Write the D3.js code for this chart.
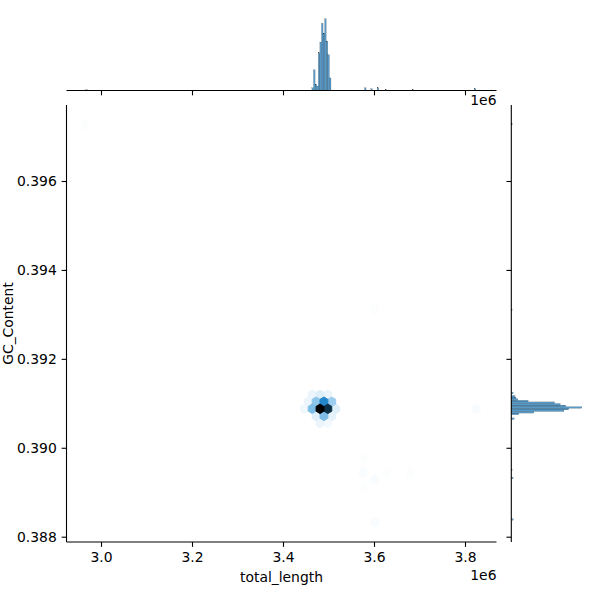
<!DOCTYPE html>
<html><head><meta charset="utf-8">
<script src="https://cdn.jsdelivr.net/npm/d3@7"></script>
<style>body{margin:0;background:#fff} svg text{font-family:"DejaVu Sans",sans-serif;}</style>
</head><body><svg id="c" width="600" height="600"></svg>
<script>
// ---------- data ----------
const xTicks = [3.0e6, 3.2e6, 3.4e6, 3.6e6, 3.8e6];
const yTicks = [0.388, 0.390, 0.392, 0.394, 0.396];
const xDomain = [2924176, 3869231];
const yDomain = [0.3878808, 0.3977093];

// hexbin cells: centers (data units) and counts
const hexX = [3446904, 3464122, 3481340, 3498558, 3515776,
              3455513, 3472731, 3489949, 3507167,
              3464122, 3481340, 3498558,
              3472731, 3489949, 3507167,
              3481340, 3498558,
              2964800, 3601866, 3825700, 3576039, 3576039, 3627693, 3679347, 3601866, 3576039, 3601866];
const hexY = [0.390876, 0.390876, 0.390876, 0.390876, 0.390876,
              0.3910355, 0.3910355, 0.3910355, 0.3910355,
              0.391195, 0.391195, 0.391195,
              0.3907165, 0.3907165, 0.3907165,
              0.390557, 0.390557,
              0.397256, 0.393109, 0.390876, 0.3897595, 0.3894405, 0.3894405, 0.3894405, 0.389281, 0.3891215, 0.388324];
const hexCount = [6, 45, 150, 125, 12,
                  8, 40, 80, 35,
                  8, 12, 8,
                  12, 45, 10,
                  8, 5,
                  2, 2, 3, 2, 3, 2, 2, 3, 2, 3];
const hexWidth = 17218;      // sx, data units
const hexRowHeight = 0.000319; // sy, data units

// marginal histogram on total_length
const histXWidth = 3500;
const histXStart = [2966500, 3463500, 3467000, 3470500, 3474000, 3477500, 3481000, 3484500, 3488000,
                    3491500, 3495000, 3498500, 3502000, 3579000, 3593000, 3607000, 3624500, 3684000, 3820500];
const histXCount = [1, 3, 23, 7, 5, 42, 54, 75, 64, 80, 55, 40, 14, 3, 2, 3, 1, 1, 2];

// marginal histogram on GC_Content
const histYHeight = 0.000036;
const histYStart = [0.388368, 0.389304, 0.389484, 0.390636, 0.390744, 0.390780, 0.390816, 0.390852,
                    0.390888, 0.390924, 0.390960, 0.390996, 0.391032, 0.391068, 0.391104, 0.391140,
                    0.391212, 0.393084, 0.397260];
const histYCount = [2, 2, 1, 3, 8, 24, 56, 61, 75, 58, 52, 46, 18, 7, 5, 4, 2, 1, 1];

// ---------- layout ----------
const J = {left: 66.5, right: 496.5, top: 105, bottom: 542};
const MX = {top: 15.2, bottom: 90.5};
const MY = {left: 511.3, right: 585.4};
const FS = 13.9;
const C0 = "#1f77b4";

const svg = d3.select("#c");
const x = d3.scaleLinear().domain(xDomain).range([J.left, J.right]);
const y = d3.scaleLinear().domain(yDomain).range([J.bottom, J.top]);

// ---------- hexbin ----------
const maxC = d3.max(hexCount);
const base = d3.hsl(C0);
const light = d3.scaleLinear().domain([1, maxC]).range([1, 0]);
const color = c => d3.hsl(base.h, base.s, light(c)).formatHex();
const hexPath = (cx, cy) => {
  const off = [[0.5, -0.5], [0.5, 0.5], [0, 1], [-0.5, 0.5], [-0.5, -0.5], [0, -1]];
  return "M" + off.map(o => [x(cx + o[0] * hexWidth), y(cy + o[1] * hexRowHeight / 3)].join(",")).join("L") + "Z";
};
const hexData = hexX.map((v, i) => ({x: v, y: hexY[i], c: hexCount[i]})).sort((a, b) => a.c - b.c);
svg.append("g").selectAll("path").data(hexData).join("path")
  .attr("d", d => hexPath(d.x, d.y))
  .attr("fill", d => color(d.c))
  .attr("stroke", d => color(d.c))
  .attr("stroke-width", 1);

// ---------- main axes ----------
const gx = svg.append("g").attr("transform", `translate(0,${J.bottom})`)
  .call(d3.axisBottom(x).tickValues(xTicks).tickFormat(d => (d / 1e6).toFixed(1))
    .tickSize(4.86).tickPadding(4.86).tickSizeOuter(0));
const gy = svg.append("g").attr("transform", `translate(${J.left},0)`)
  .call(d3.axisLeft(y).tickValues(yTicks).tickFormat(d => d.toFixed(3))
    .tickSize(4.86).tickPadding(4.86).tickSizeOuter(0));
[gx, gy].forEach(g => {
  g.selectAll("path.domain").attr("stroke", "#000").attr("stroke-width", 1.1);
  g.selectAll(".tick line").attr("stroke", "#000").attr("stroke-width", 1.1);
  g.selectAll(".tick text").attr("fill", "#000").style("font-size", FS + "px").style("font-family", "DejaVu Sans");
});
gx.select("path.domain").attr("d", `M${J.left},0H${J.right}`);
gy.select("path.domain").attr("d", `M0,${J.top}V${J.bottom}`);

svg.append("text").attr("x", (J.left + J.right) / 2).attr("y", 582)
  .attr("text-anchor", "middle").style("font-size", FS + "px").text("total_length");
svg.append("text").attr("transform", `translate(12.5,${(J.top + J.bottom) / 2}) rotate(-90)`)
  .attr("text-anchor", "middle").style("font-size", FS + "px").text("GC_Content");
svg.append("text").attr("x", J.right).attr("y", 580)
  .attr("text-anchor", "end").style("font-size", FS + "px").text("1e6");

// ---------- top marginal ----------
const hx = d3.scaleLinear().domain([0, d3.max(histXCount) * 1.05]).range([MX.bottom, MX.top]);
svg.append("g").selectAll("rect").data(histXStart.map((s, i) => ({s, c: histXCount[i]}))).join("rect")
  .attr("x", d => x(d.s)).attr("width", d => x(d.s + histXWidth) - x(d.s))
  .attr("y", d => hx(d.c)).attr("height", d => hx(0) - hx(d.c))
  .attr("fill", C0).attr("fill-opacity", 0.75)
  .attr("stroke", "#000").attr("stroke-opacity", 0.75).attr("stroke-width", 0.16);
const gmx = svg.append("g").attr("transform", `translate(0,${MX.bottom})`)
  .call(d3.axisBottom(x).tickValues(xTicks).tickFormat("").tickSize(4.86).tickSizeOuter(0));
gmx.select("path.domain").attr("d", `M${J.left},0H${J.right}`).attr("stroke", "#000").attr("stroke-width", 1.1);
gmx.selectAll(".tick line").attr("stroke", "#000").attr("stroke-width", 1.1);
svg.append("text").attr("x", J.right).attr("y", 104.5)
  .attr("text-anchor", "end").style("font-size", FS + "px").text("1e6");

// ---------- right marginal ----------
const hy = d3.scaleLinear().domain([0, d3.max(histYCount) * 1.05]).range([MY.left, MY.right]);
svg.append("g").selectAll("rect").data(histYStart.map((s, i) => ({s, c: histYCount[i]}))).join("rect")
  .attr("x", hy(0)).attr("width", d => hy(d.c) - hy(0))
  .attr("y", d => y(d.s + histYHeight)).attr("height", d => y(d.s) - y(d.s + histYHeight))
  .attr("fill", C0).attr("fill-opacity", 0.75)
  .attr("stroke", "#000").attr("stroke-opacity", 0.75).attr("stroke-width", 0.16);
const gmy = svg.append("g").attr("transform", `translate(${MY.left},0)`)
  .call(d3.axisLeft(y).tickValues(yTicks).tickFormat("").tickSize(4.86).tickSizeOuter(0));
gmy.select("path.domain").attr("d", `M0,${J.top}V${J.bottom}`).attr("stroke", "#000").attr("stroke-width", 1.1);
gmy.selectAll(".tick line").attr("stroke", "#000").attr("stroke-width", 1.1);
</script></body></html>
